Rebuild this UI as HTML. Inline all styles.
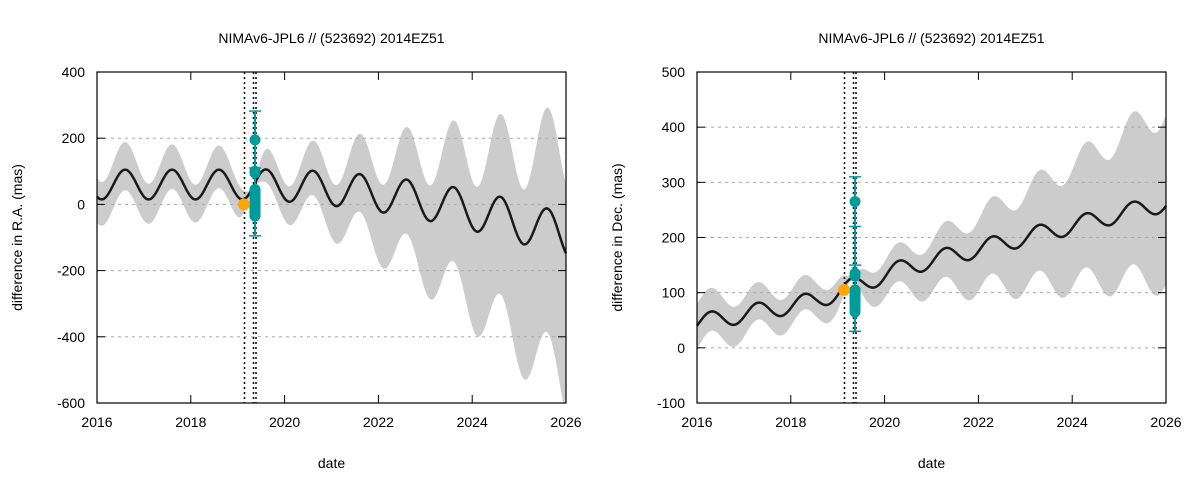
<!DOCTYPE html>
<html><head><meta charset="utf-8"><style>
body{margin:0;background:#fff}
svg{display:block;font-family:"Liberation Sans",sans-serif}
</style></head><body>
<svg id="s" width="1200" height="480" xmlns="http://www.w3.org/2000/svg"></svg>
<script>
const S=document.getElementById('s');let h='';
function plot(o){
 const X0=o.x0,X1=o.x1,Y0=72,Y1=403;
 const xs=t=>X0+(t-2016)*(X1-X0)/10, ys=v=>Y0+(o.ymax-v)*(Y1-Y0)/(o.ymax-o.ymin);
 h+=`<text x="${(X0+X1)/2}" y="43" font-size="14" text-anchor="middle">NIMAv6-JPL6 // (523692) 2014EZ51</text>`;
 let up=[],lo=[],mn=[];
 for(let t=2016;t<=2026.0001;t+=0.01){
  const m=o.mean(t),w=o.w(t);
  up.push(xs(t).toFixed(1)+','+Math.max(Y0,ys(m+w[0])).toFixed(1));
  lo.push(xs(t).toFixed(1)+','+Math.min(Y1,ys(m-w[1])).toFixed(1));
  mn.push(xs(t).toFixed(1)+','+ys(m).toFixed(1));
 }
 h+=`<polygon points="${up.join(' ')} ${lo.reverse().join(' ')}" fill="#cccccc"/>`;
 for(let v=o.ymin;v<=o.ymax;v+=o.step){const y=ys(v);
  if(v>o.ymin&&v<o.ymax)h+=`<line x1="${X0}" x2="${X1}" y1="${y}" y2="${y}" stroke="#aaa" stroke-width="1" stroke-dasharray="3,4"/>`;
  h+=`<line x1="${X0}" x2="${X0+8}" y1="${y}" y2="${y}" stroke="#000"/><line x1="${X1}" x2="${X1-8}" y1="${y}" y2="${y}" stroke="#000"/>`;
  h+=`<text x="${X0-12}" y="${y+5}" font-size="14" text-anchor="end">${v}</text>`;}
 for(let t=2016;t<=2026;t+=2){const x=xs(t);
  h+=`<line x1="${x}" x2="${x}" y1="${Y1}" y2="${Y1-8}" stroke="#000"/><line x1="${x}" x2="${x}" y1="${Y0}" y2="${Y0+8}" stroke="#000"/>`;
  h+=`<text x="${x}" y="${Y1+24}" font-size="14" text-anchor="middle">${t}</text>`;}
 h+=`<polyline points="${mn.join(' ')}" fill="none" stroke="#1a1a1a" stroke-width="2.5"/>`;
 o.vx.forEach(x=>h+=`<line x1="${x}" x2="${x}" y1="${Y0}" y2="${Y1}" stroke="#000" stroke-width="1.5" stroke-dasharray="2,3"/>`);
 const c='#009b9b';
 h+=`<line x1="${o.ox}" x2="${o.ox}" y1="${ys(o.eb[1])}" y2="${ys(o.eb[0])}" stroke="${c}" stroke-width="2"/>`;
 o.caps.forEach(v=>h+=`<line x1="${o.ox-6}" x2="${o.ox+6}" y1="${ys(v)}" y2="${ys(v)}" stroke="${c}" stroke-width="1.5"/>`);
 o.pts.forEach(v=>h+=`<circle cx="${o.ox}" cy="${ys(v)}" r="5.5" fill="${c}"/>`);
 h+=`<rect x="${o.ox-5.5}" y="${ys(o.cl[1])}" width="11" height="${ys(o.cl[0])-ys(o.cl[1])}" fill="${c}"/>`;
 h+=`<circle cx="${o.orx}" cy="${ys(o.orv)}" r="6" fill="#ffa500"/>`;
 h+=`<rect x="${X0}" y="${Y0}" width="${X1-X0}" height="${Y1-Y0}" fill="none" stroke="#000" stroke-width="1.2"/>`;
 h+=`<text x="${(X0+X1)/2}" y="468" font-size="14" text-anchor="middle">date</text>`;
 h+=`<text transform="translate(${X0-75},${(Y0+Y1)/2}) rotate(-90)" font-size="14" text-anchor="middle">${o.yl}</text>`;
}
const P=2*Math.PI;
function narrow(t){return 1-0.85*Math.exp(-Math.pow((t-2019.3)/0.2,2));}
function interp(pts,t){for(let i=0;i<pts.length-1;i++){const a=pts[i],b=pts[i+1];if(t<=b[0]||i==pts.length-2){return a[1]+(b[1]-a[1])*(t-a[0])/(b[0]-a[0]);}}}
const RC=[[2016,45],[2018.5,85],[2020.5,148],[2025.5,253],[2026,262]];
plot({x0:97,x1:566,ymin:-600,ymax:400,step:200,yl:'difference in R.A. (mas)',
 mean:t=>{const d=Math.max(0,t-2019);return 60-3.15*d*d+(45+3*d)*Math.sin(P*(t-2016.35));},
 w:t=>{const d=t-2019.3,n=narrow(t),s=Math.sin(P*(t-2016.35));
  const U=(d>0?60+20*d+3*d*d:72+1.5*d*d)*n, L=(d>0?40+25*d+5.5*d*d:62+d*d)*n;
  return [U*(0.8+0.2*s),L*(1-0.1*s)];},
 vx:[244.5,253.5,256],ox:255,eb:[-95,282],caps:[282,110,-95],pts:[195,100,95,45,-35],cl:[-35,45],orx:244,orv:0});
plot({x0:697,x1:1166,ymin:-100,ymax:500,step:100,yl:'difference in Dec. (mas)',
 mean:t=>interp(RC,t)+16*Math.sin(P*(t-2016.05)),
 w:t=>{const d=t-2019.3,n=narrow(t),s=Math.sin(P*(t-2016.05));
  const U=(d>0?Math.max(30,10+14*d+1.5*d*d):30+d*d)*n, L=(d>0?Math.max(30,24+17*d):30+d*d)*n;
  return [U*(1+0.1*s),L*(1-0.1*s)];},
 vx:[844.5,853.5,856],ox:855,eb:[30,310],caps:[310,220,150,30],pts:[265,135,130,105,65],cl:[68,108],orx:844,orv:105});
S.innerHTML=h;
</script>
</body></html>
